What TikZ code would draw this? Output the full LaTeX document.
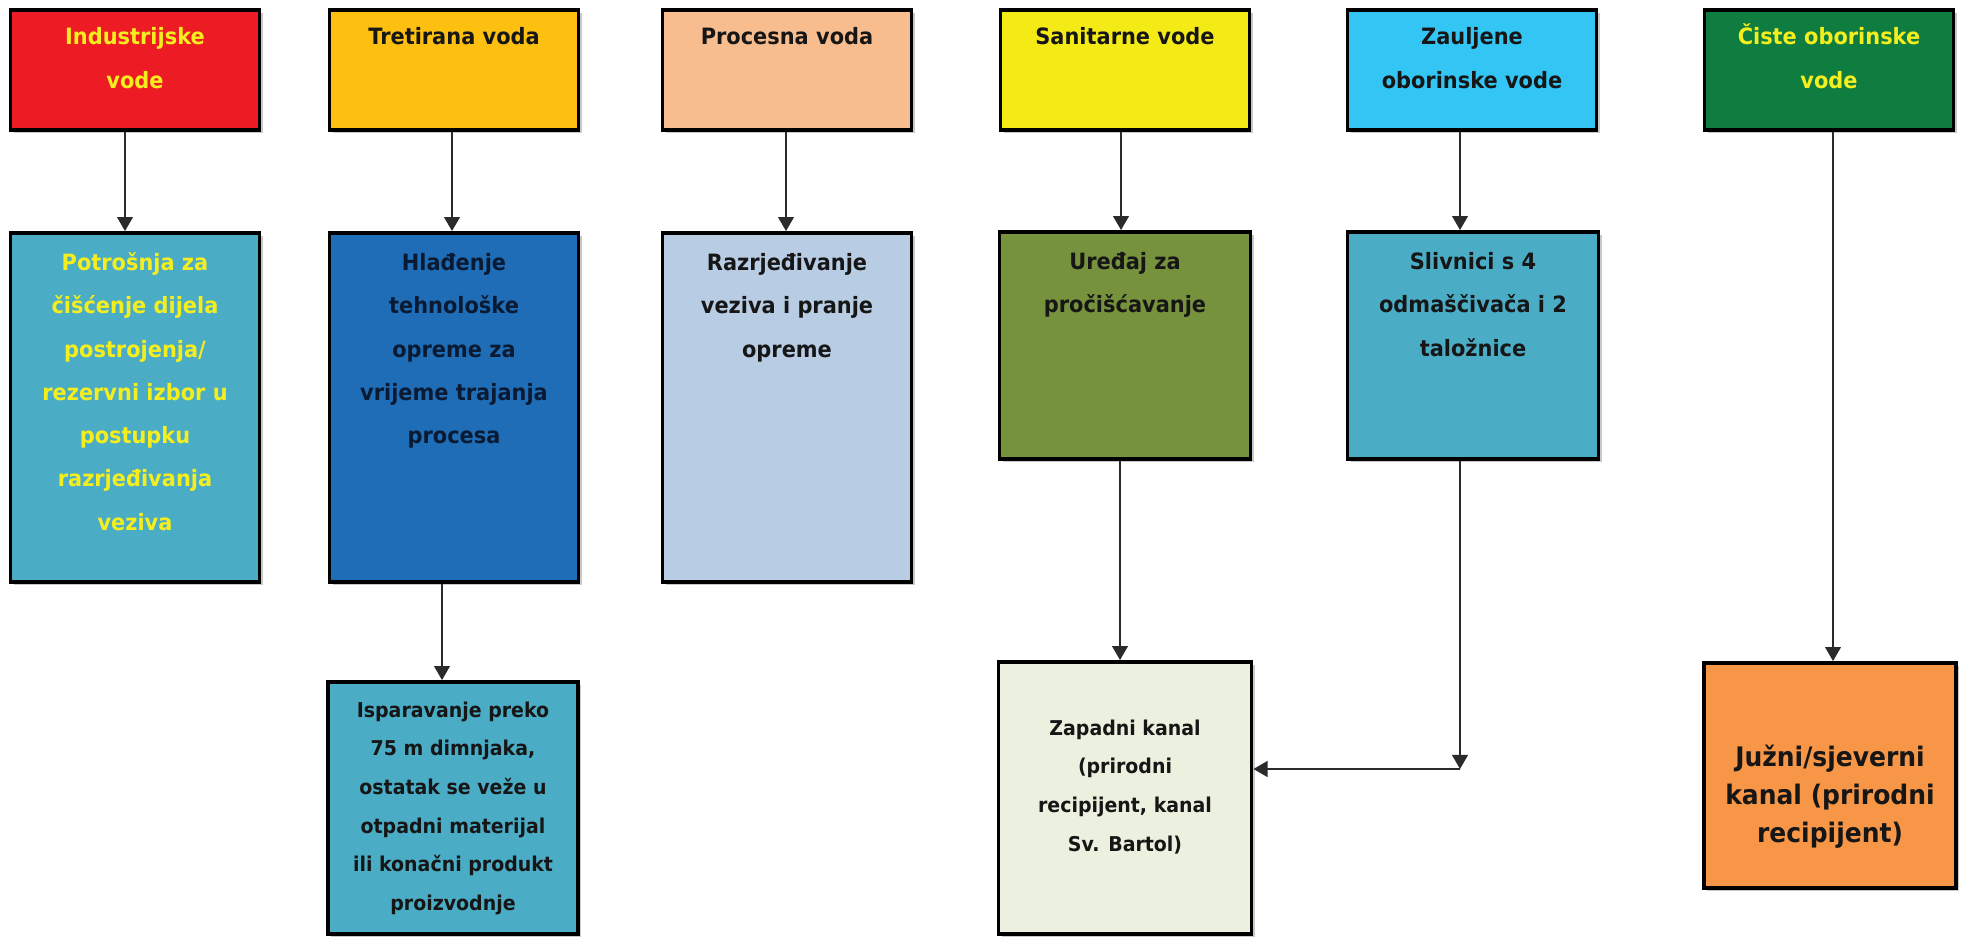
\documentclass[tikz,border=0pt]{standalone}
\usepackage{fontspec}
\setmainfont{DejaVu Sans}[FakeStretch=0.93]
\usetikzlibrary{arrows.meta,shadows,calc}
\newlength\pu \setlength\pu{0.02cm}
\newcommand\bx[4]{\parbox[c][#2][t]{#1}{\centering\rule{0pt}{#3}#4\par}}
\definecolor{cRed}{HTML}{ED1C24}
\definecolor{cAmber}{HTML}{FDC010}
\definecolor{cPeach}{HTML}{F8BD8E}
\definecolor{cYel}{HTML}{F4EA15}
\definecolor{cCyan}{HTML}{33C5F3}
\definecolor{cGreen}{HTML}{0F7D3F}
\definecolor{cTeal}{HTML}{4BACC6}
\definecolor{cBlue}{HTML}{1E6DB6}
\definecolor{cLBlue}{HTML}{B8CCE4}
\definecolor{cOlive}{HTML}{76923C}
\definecolor{cLGreen}{HTML}{EBF1DE}
\definecolor{cOrange}{HTML}{F79646}
\definecolor{tYel}{HTML}{F5EE1E}
\definecolor{tDark}{HTML}{161616}
\definecolor{tNavy}{HTML}{0B1A33}
\definecolor{lineC}{HTML}{2B2B2B}
\begin{document}
\begin{tikzpicture}[x=0.02cm,y=-0.02cm,
  box/.style={draw=black, line width=2.2pt, inner sep=0pt, text=tDark,
    drop shadow={shadow xshift=3\pu, shadow yshift=-3\pu, fill=black!35, opacity=0.6}},
  fbig/.style={font=\fontsize{12.8}{24.6}\selectfont\bfseries},
  fsmall/.style={font=\fontsize{11.6}{22}\selectfont\bfseries},
  flarge/.style={font=\fontsize{15.3}{21.6}\selectfont\bfseries},
  arr/.style={draw=lineC, line width=0.85pt, -{Triangle[length=8pt,width=9pt]}}]
\fill[white] (0,0) rectangle (1964,939);
\useasboundingbox (0,0) rectangle (1964,939);

% top row
\node[box,fbig,fill=cRed,text=tYel] (ind) at (135,70) {\bx{249\pu}{120\pu}{19.8pt}{Industrijske\\vode}};
\node[box,fbig,fill=cAmber] (tre) at (454,70) {\bx{249\pu}{120\pu}{19.8pt}{Tretirana voda}};
\node[box,fbig,fill=cPeach] (pro) at (787,70) {\bx{249\pu}{120\pu}{19.8pt}{Procesna voda}};
\node[box,fbig,fill=cYel] (san) at (1125,70) {\bx{249\pu}{120\pu}{19.8pt}{Sanitarne vode}};
\node[box,fbig,fill=cCyan] (zau) at (1472,70) {\bx{249\pu}{120\pu}{19.8pt}{Zauljene\\oborinske vode}};
\node[box,fbig,fill=cGreen,text=tYel] (cis) at (1829,70) {\bx{249\pu}{120\pu}{19.8pt}{Čiste oborinske\\vode}};

% middle row
\node[box,fbig,fill=cTeal,text=tYel] (pot) at (135,407.5) {\bx{249\pu}{349\pu}{21.5pt}{Potrošnja za\\čišćenje dijela\\postrojenja/\\rezervni izbor u\\postupku\\razrjeđivanja\\veziva}};
\node[box,fbig,fill=cBlue,text=tNavy] (hla) at (454,407.5) {\bx{249\pu}{349\pu}{21.5pt}{Hlađenje\\tehnološke\\opreme za\\vrijeme trajanja\\procesa}};
\node[box,fbig,fill=cLBlue] (raz) at (787,407.5) {\bx{249\pu}{349\pu}{21.5pt}{Razrjeđivanje\\veziva i pranje\\opreme}};
\node[box,fbig,fill=cOlive] (ure) at (1125,345.5) {\bx{251\pu}{227\pu}{21.5pt}{Uređaj za\\pročišćavanje}};
\node[box,fbig,fill=cTeal] (sli) at (1473,345.5) {\bx{251\pu}{227\pu}{21.5pt}{Slivnici s 4\\odmaščivača i 2\\taložnice}};

% bottom row
\node[box,fsmall,fill=cTeal] (isp) at (453,808) {\bx{250\pu}{252\pu}{20pt}{Isparavanje preko\\75 m dimnjaka,\\ostatak se veže u\\otpadni materijal\\ili konačni produkt\\proizvodnje}};
\node[box,fsmall,fill=cLGreen] (zap) at (1125,798) {\bx{253\pu}{272\pu}{41.7pt}{Zapadni kanal\\(prirodni\\recipijent, kanal\\Sv. Bartol)}};
\node[box,flarge,fill=cOrange] (juz) at (1830,775.5) {\bx{252\pu}{225\pu}{58.8pt}{Južni/sjeverni\\kanal (prirodni\\recipijent)}};

% connectors
\draw[arr] ([xshift=-10\pu]ind.south) -- ([xshift=-10\pu]pot.north);
\draw[arr] ([xshift=-2\pu]tre.south) -- ([xshift=-2\pu]hla.north);
\draw[arr] ([xshift=-1\pu]pro.south) -- ([xshift=-1\pu]raz.north);
\draw[arr] ([xshift=-4\pu]san.south) -- ([xshift=-4\pu]ure.north);
\draw[arr] ([xshift=-12\pu]zau.south) -- ([xshift=-13\pu]sli.north);
\draw[arr] ([xshift=4\pu]cis.south) -- ([xshift=3\pu]juz.north);
\draw[arr] ([xshift=-12\pu]hla.south) -- ([xshift=-11\pu]isp.north);
\draw[arr] ([xshift=-5\pu]ure.south) -- ([xshift=-5\pu]zap.north);
\coordinate (c1) at (1460,769);
\draw[arr] ([xshift=-13\pu]sli.south) -- (c1);
\draw[arr] (c1) -- (zap.east |- c1);
\end{tikzpicture}
\end{document}
